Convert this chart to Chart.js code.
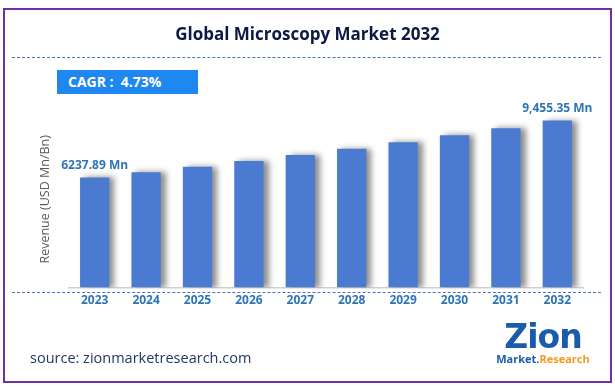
<!DOCTYPE html>
<html>
<head>
<meta charset="utf-8">
<script src="https://cdn.jsdelivr.net/npm/chart.js@4"></script>
<style>
  body { margin:0; background:#fff; font-family:"Open Sans", sans-serif; }
  #wrap { position:relative; width:615px; height:392px; overflow:hidden; }
  #myChart { position:absolute; left:0; top:0; }
  .frame { position:absolute; left:3px; top:8px; width:605px; height:371px; border:2px solid #7030a0; }
  .title { position:absolute; left:0; width:615px; top:22px; text-align:center; font-weight:bold; font-size:17px; color:#0b1a45; }
  .dash { position:absolute; left:12px; width:589px; border-top:1.5px dashed #4a6fc4; }
  .cagr { position:absolute; left:57px; top:70px; width:141px; height:24px; background:#1e88f0; color:#fff; font-weight:bold; font-size:14px; line-height:24px; padding-left:11px; box-sizing:border-box; }
  .src { position:absolute; left:30px; top:348px; font-size:14.5px; color:#1f3864; }
  .logo { position:absolute; left:493px; top:322px; width:100px; text-align:center; }
  .logo .z { font-size:33px; font-weight:900; color:#1a5bab; line-height:30px; letter-spacing:-1px; font-family:"DejaVu Sans", sans-serif; }
  .logo .m { font-size:11px; font-weight:bold; line-height:13px; color:#1a5bab; }
  .logo .m span { color:#f39a1e; }
</style>
</head>
<body>
<div id="wrap">
  <canvas id="myChart" width="615" height="392"></canvas>
  <div class="frame"></div>
  <div class="title">Global Microscopy Market 2032</div>
  <div class="dash" style="top:57px"></div>
  <div class="dash" style="top:292px"></div>
  <div class="cagr">CAGR :&nbsp; 4.73%</div>
  <div class="src">source: zionmarketresearch.com</div>
  <div class="logo"><div class="z">Zion</div><div class="m">Market.<span>Research</span></div></div>
</div>
<script>
// 데이터
var years = ['2023', '2024', '2025', '2026', '2027', '2028', '2029', '2030', '2031', '2032'];
var revenue = [6237.89, 6533, 6842, 7166, 7505, 7860, 8232, 8621, 9029, 9455.35];
var labelText = ['6237.89 Mn', '', '', '', '', '', '', '', '', '9,455.35 Mn'];

// 막대 그림자 + 값 라벨
var shadowPlugin = {
    id: 'barShadow',
    beforeDatasetsDraw: function(chart){
        var c = chart.ctx;
        c.save();
        c.shadowColor = 'rgba(0,0,0,0.45)';
        c.shadowBlur = 6;
        c.shadowOffsetX = 5;
        c.shadowOffsetY = 0;
    },
    afterDatasetsDraw: function(chart){
        chart.ctx.restore();
        var c = chart.ctx;
        var meta = chart.getDatasetMeta(0);
        c.save();
        c.font = 'bold 12px "Open Sans"';
        c.fillStyle = '#2e75b6';
        c.textAlign = 'center';
        c.textBaseline = 'bottom';
        for(var i=0; i<labelText.length; i++){
            if(!labelText[i]) continue;
            var bar = meta.data[i];
            c.fillText(labelText[i], bar.x, bar.y - 6);
        }
        c.restore();
    }
};

var ctx = document.getElementById('myChart').getContext('2d');
var myChart = new Chart(ctx, {
    type: 'bar',
    data: {
        labels: years,
        datasets: [{
            data: revenue,
            backgroundColor: '#4a7bd0',
            categoryPercentage: 1,
            barPercentage: 0.57
        }]
    },
    options: {
        responsive: false,
        animation: false,
        layout: { padding: { left: 38, right: 32, top: 111, bottom: 78 } },
        plugins: { legend: { display: false }, tooltip: { enabled: false } },
        scales: {
            x: {
                grid: { display: false, drawTicks: false },
                border: { color: '#d0d0d0', width: 1.5 },
                ticks: { color: '#2e75b6', font: { family: 'Open Sans', weight: 'bold', size: 12 }, padding: 6 }
            },
            y: {
                min: 0,
                max: 10000,
                grid: { display: false, drawTicks: false },
                border: { display: false },
                ticks: { display: false },
                title: { display: true, text: 'Revenue (USD Mn/Bn)', color: '#595959', font: { family: 'Open Sans', size: 12.5 }, padding: { top: 0, bottom: 16 } }
            }
        }
    },
    plugins: [shadowPlugin]
});
</script>
</body>
</html>
